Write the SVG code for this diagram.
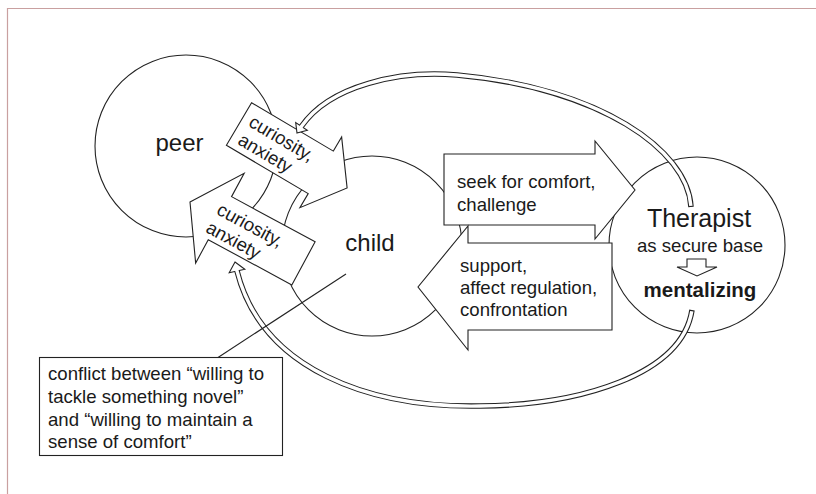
<svg xmlns="http://www.w3.org/2000/svg" width="816" height="494" viewBox="0 0 816 494">
<style>
.c{fill:none;stroke:#222;stroke-width:1.1}
.a{fill:#fff;stroke:#222;stroke-width:1.1;stroke-linejoin:miter}
.o{fill:none;stroke:#222;stroke-width:5.5}
.i{fill:none;stroke:#fff;stroke-width:3.4;stroke-dasharray:0 1.2 3000 0}
text{font-family:"Liberation Sans",Arial,sans-serif;fill:#1a1a1a}
.t{font-size:18.6px}
.big{font-size:24px}
</style>
<rect width="816" height="494" fill="#fff"/>
<path d="M7.5,494 V8.5 H816" fill="none" stroke="#c9a0a0" stroke-width="1.2"/>

<g id="peer">
<circle cx="186" cy="146" r="91" class="c"/>
<text x="179.5" y="151" class="big" text-anchor="middle">peer</text>
</g>
<g id="child">
<circle cx="372" cy="246" r="90" class="c"/>
<text x="370" y="251" class="big" text-anchor="middle">child</text>
</g>
<g id="therapist">
<circle cx="697" cy="245" r="88" class="c"/>
<text x="699" y="227" font-size="25" text-anchor="middle">Therapist</text>
<text x="700" y="252" class="t" text-anchor="middle">as secure base</text>
<polygon points="687,259 706,259 706,267 717,267 697,276 677,267 687,267" class="a"/>
<text x="700" y="297" font-size="20.5" font-weight="bold" text-anchor="middle">mentalizing</text>
</g>

<g id="arrow-curiosity-1" transform="translate(239 124) rotate(30.6)">
<polygon points="0,-24.7 95,-24.7 95,-41 125.6,0 95,41 95,24.7 0,24.7" class="a"/>
<text x="8" y="-3" class="t">curiosity,</text>
<text x="8" y="18" class="t">anxiety</text>
</g>
<g id="arrow-curiosity-2" transform="translate(190 202) rotate(28.4)">
<polygon points="0,0 34,-51 34,-24.5 129,-24.5 129,24.5 34,24.5 34,51" class="a"/>
<text x="28" y="-2" class="t">curiosity,</text>
<text x="27" y="19" class="t">anxiety</text>
</g>

<g id="arrow-seek">
<polygon points="444,154 595,154 595,141 635,190 595,239 595,225 444,225" class="a"/>
<text x="457" y="188" class="t">seek for comfort,</text>
<text x="457" y="211" class="t">challenge</text>
</g>
<g id="arrow-support">
<polygon points="612,243 468,243 468,226 418,287 468,350 468,330 612,330" class="a"/>
<text x="460" y="272" class="t">support,</text>
<text x="460" y="294" class="t">affect regulation,</text>
<text x="460" y="316" class="t">confrontation</text>
</g>

<g id="connectors">
<polygon points="297,133 307.3,130.2 295.7,122.5" class="a"/>
<path d="M691,207 C688,150 600,88 457,75 C400,70 330,85 301.5,126.3" class="o"/>
<path d="M691,207 C688,150 600,88 457,75 C400,70 330,85 301.5,126.3 l-1.1,1.7" class="i"/>
<polygon points="235,262 244.8,269.2 229.2,272.8" class="a"/>
<path d="M692,310 C682,375 580,405 480,406 C370,408 262,370 237,271" class="o"/>
<path d="M692,310 C682,375 580,405 480,406 C370,408 262,370 237,271 l-0.5,-2" class="i"/>
</g>

<g id="note">
<rect x="39.5" y="357.5" width="243" height="98" class="a"/>
<text class="t"><tspan x="48" y="380">conflict between “willing to</tspan><tspan x="48" y="403">tackle something novel”</tspan><tspan x="48" y="426">and “willing to maintain a</tspan><tspan x="48" y="448">sense of comfort”</tspan></text>
<line x1="346" y1="274" x2="218" y2="357.5" class="c"/>
</g>
</svg>
